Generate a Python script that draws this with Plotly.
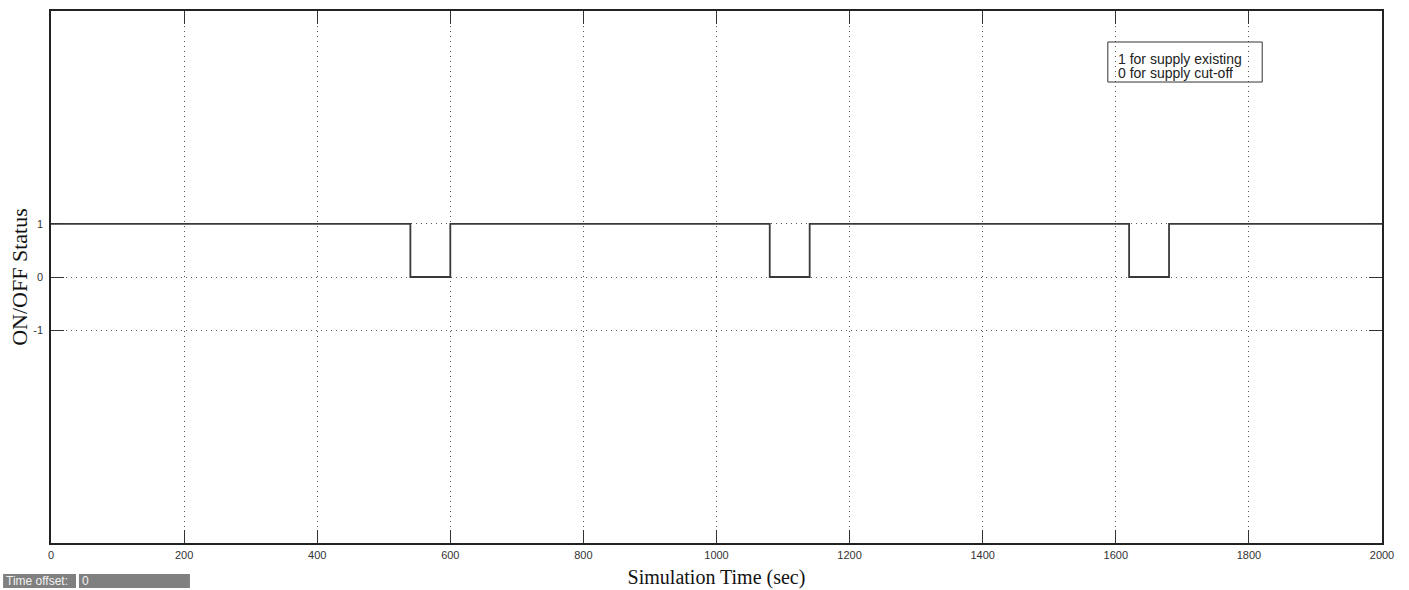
import plotly.graph_objects as go

# Data
time_sec = [0, 540, 600, 1080, 1140, 1620, 1680, 2000]
status = [1, 0, 1, 0, 1, 0, 1, 1]
x_ticks = [0, 200, 400, 600, 800, 1000, 1200, 1400, 1600, 1800, 2000]
y_ticks = [-1, 0, 1]
legend_lines = ["1 for supply existing", "0 for supply cut-off"]
time_offset = "0"

fig = go.Figure()
fig.add_trace(go.Scatter(
    x=time_sec, y=status, mode="lines", line_shape="hv",
    line=dict(color="#3a3a3a", width=1.8), showlegend=False, hoverinfo="skip"))

axis_common = dict(
    showline=True, linecolor="#222222", linewidth=1.5, mirror="ticks",
    ticks="inside", ticklen=13, tickcolor="#333333", tickwidth=1,
    showgrid=True, gridcolor="#555555", griddash="1px,4px", gridwidth=1,
    zeroline=False, automargin=False,
    tickfont=dict(family="Liberation Sans, Arial", size=11, color="#333333"),
)

fig.update_xaxes(range=[0, 2000], tickvals=x_ticks, ticktext=[str(v) for v in x_ticks],
                 title=dict(text="Simulation Time (sec)", standoff=10,
                            font=dict(family="Liberation Serif, Times New Roman", size=20, color="#111111")),
                 ticklabelstandoff=1,
                 **axis_common)
fig.update_yaxes(range=[-5, 5], tickvals=y_ticks, ticktext=[str(v) for v in y_ticks],
                 title=dict(text="ON/OFF Status", standoff=0,
                            font=dict(family="Liberation Serif, Times New Roman", size=22, color="#111111")),
                 ticklabelstandoff=4,
                 **axis_common)

# Legend box
fig.add_shape(type="rect", xref="paper", yref="paper",
              x0=0.794, x1=0.910, y0=0.8665, y1=0.9417,
              line=dict(color="#333333", width=1), fillcolor="rgba(0,0,0,0)")
for txt, yy in zip(legend_lines, [0.9098, 0.8835]):
    fig.add_annotation(xref="paper", yref="paper", x=0.8005, y=yy, xanchor="left", yanchor="middle",
                       text=txt, showarrow=False,
                       font=dict(family="Liberation Sans, Arial", size=14, color="#222222"))

# Time offset bar
fig.add_shape(type="rect", xref="paper", yref="paper",
              x0=-0.036, x1=0.0188, y0=-0.0846, y1=-0.0583,
              fillcolor="#808080", line=dict(width=0))
fig.add_shape(type="rect", xref="paper", yref="paper",
              x0=0.021, x1=0.1044, y0=-0.0846, y1=-0.0583,
              fillcolor="#808080", line=dict(width=0))
fig.add_annotation(xref="paper", yref="paper", x=-0.035, y=-0.0715, xanchor="left", yanchor="middle",
                   text="Time offset:", showarrow=False,
                   font=dict(family="Liberation Sans, Arial", size=12, color="#f2f2f2"))
fig.add_annotation(xref="paper", yref="paper", x=0.0215, y=-0.0715, xanchor="left", yanchor="middle",
                   text=time_offset, showarrow=False,
                   font=dict(family="Liberation Sans, Arial", size=12, color="#f2f2f2"))

fig.update_layout(
    width=1409, height=590,
    margin=dict(l=51, r=27, t=11, b=47, autoexpand=False),
    plot_bgcolor="white", paper_bgcolor="white",
)

fig.write_html("out.html")
